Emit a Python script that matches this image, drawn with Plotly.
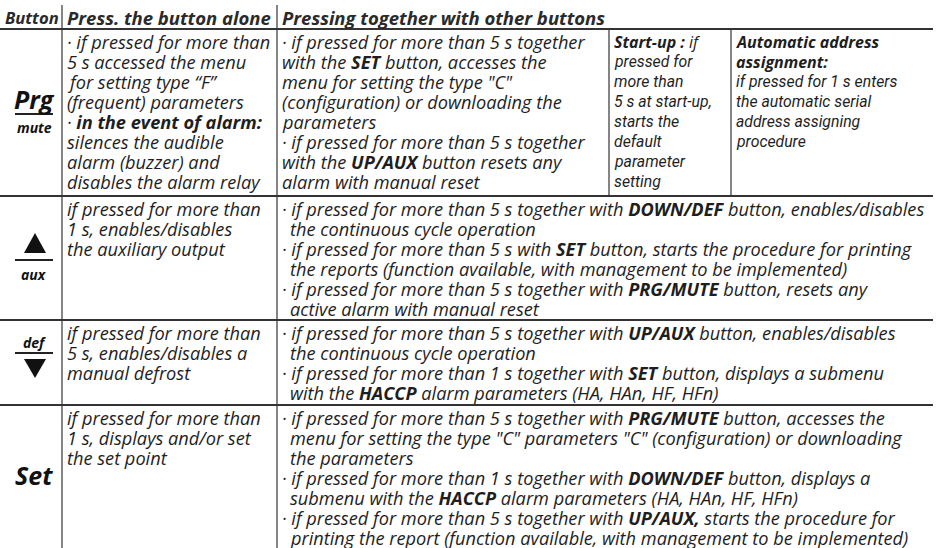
import plotly.graph_objects as go

# ---------------- data (table content) ----------------
header = ["Button", "Press. the button alone", "Pressing together with other buttons"]

button_names = ["Prg", "aux", "def", "Set"]
button_subs = ["mute", "", "", ""]

alone_texts = [
    ["· if pressed for more than",
     "5 s accessed the menu",
     "for setting type “F”",
     "(frequent) parameters",
     "· <b>in the event of alarm:</b>",
     "silences the audible",
     "alarm (buzzer) and",
     "disables the alarm relay"],
    ["if pressed for more than",
     "1 s, enables/disables",
     "the auxiliary output"],
    ["if pressed for more than",
     "5 s, enables/disables a",
     "manual defrost"],
    ["if pressed for more than",
     "1 s, displays and/or set",
     "the set point"],
]

together_texts = [
    ["· if pressed for more than 5 s together",
     "with the <b>SET</b> button, accesses the",
     "menu for setting the type \"C\"",
     "(configuration) or downloading the",
     "parameters",
     "· if pressed for more than 5 s together",
     "with the <b>UP/AUX</b> button resets any",
     "alarm with manual reset"],
    ["· if pressed for more than 5 s together with <b>DOWN/DEF</b> button, enables/disables",
     "  the continuous cycle operation",
     "· if pressed for more than 5 s with <b>SET</b> button, starts the procedure for printing",
     "  the reports (function available, with management to be implemented)",
     "· if pressed for more than 5 s together with <b>PRG/MUTE</b> button, resets any",
     "  active alarm with manual reset"],
    ["· if pressed for more than 5 s together with <b>UP/AUX</b> button, enables/disables",
     "  the continuous cycle operation",
     "· if pressed for more than 1 s together with <b>SET</b> button, displays a submenu",
     "  with the <b>HACCP</b> alarm parameters (HA, HAn, HF, HFn)"],
    ["· if pressed for more than 5 s together with <b>PRG/MUTE</b> button, accesses the",
     "  menu for setting the type \"C\" parameters \"C\" (configuration) or downloading",
     "  the parameters",
     "· if pressed for more than 1 s together with <b>DOWN/DEF</b> button, displays a",
     "  submenu with the <b>HACCP</b> alarm parameters (HA, HAn, HF, HFn)",
     "· if pressed for more than 5 s together with <b>UP/AUX,</b> starts the procedure for",
     "  printing the report (function available, with management to be implemented)"],
]

startup_text = ["<b>Start-up :</b> if", "pressed for", "more than", "5 s at start-up,",
                "starts the", "default", "parameter", "setting"]
auto_text = ["<b>Automatic address</b>", "<b>assignment:</b>", "if pressed for 1 s enters",
             "the automatic serial", "address assigning", "procedure"]

# ---------------- layout geometry (screen pixels) ----------------
W, H = 951, 548
X_DIV = [62, 277, 609, 731]
X_RIGHT = 933
X_TEXT = [65, 280, 612, 734]
HEADER_Y = 17
HEADER_LINE = 29
ROW_SEPS = [196, 320, 405]
ROW_TOPS = [HEADER_LINE, 196, 320, 405]
LINE0 = 12.5
LINE_H = 20
INDENT = 8

TXT = "#1e1e1e"
LINE = "#333333"
FONT = "Open Sans, Noto Sans, sans-serif"
NARROW = "Roboto, sans-serif"
FS = 18.2
FS_NARROW = 15.8
FS_BOLDNARROW = 16

ann = []
shapes = []


def add_line_text(x, y, txt, family=FONT, size=FS, color=TXT):
    ind = 0
    if txt.startswith("  "):
        ind = INDENT
        txt = txt[2:]
    ann.append(dict(x=x + ind, y=y, xref="x", yref="y", text="<i>" + txt + "</i>",
                    showarrow=False, xanchor="left", yanchor="middle",
                    font=dict(family=family, size=size, color=color, style="italic")))


def add_cell(x, top, lines, family=FONT, size=FS, start=0):
    for i, t in enumerate(lines):
        add_line_text(x, top + LINE0 + (i + start) * LINE_H, t, family, size)


# header
HFONT = dict(family=FONT, size=18.5, color="#2a2a2a")
for xh, txt, fs in zip([3, X_TEXT[0], X_TEXT[1]], header, [16.6, 18.5, 18.5]):
    ann.append(dict(x=xh, y=HEADER_Y, xref="x", yref="y", text="<b><i>" + txt + "</i></b>",
                    showarrow=False, xanchor="left", yanchor="middle",
                    font=dict(family=FONT, size=fs, color="#2a2a2a")))

# cells
for r in range(4):
    add_cell(X_TEXT[0], ROW_TOPS[r], alone_texts[r])
    add_cell(X_TEXT[1], ROW_TOPS[r], together_texts[r])
add_cell(X_TEXT[2], ROW_TOPS[0], startup_text[:1], FONT, FS_BOLDNARROW)
add_cell(X_TEXT[2], ROW_TOPS[0], startup_text[1:], NARROW, FS_NARROW, start=1)
add_cell(X_TEXT[3], ROW_TOPS[0], auto_text[:2], FONT, FS_BOLDNARROW)
add_cell(X_TEXT[3], ROW_TOPS[0], auto_text[2:], NARROW, FS_NARROW, start=2)

# horizontal lines
for yv in [HEADER_LINE] + ROW_SEPS:
    shapes.append(dict(type="line", x0=0, x1=X_RIGHT, y0=yv, y1=yv,
                       xref="x", yref="y", line=dict(color=LINE, width=1.8)))
# vertical lines
for xv in X_DIV[:2]:
    shapes.append(dict(type="line", x0=xv, x1=xv, y0=5, y1=H, xref="x", yref="y",
                       line=dict(color=LINE, width=1.2)))
for xv in X_DIV[2:]:
    shapes.append(dict(type="line", x0=xv, x1=xv, y0=HEADER_LINE, y1=ROW_SEPS[0],
                       xref="x", yref="y", line=dict(color=LINE, width=1.2)))

# button symbols
BX = 34
BOLD_SYM = dict(family="Open Sans, sans-serif", size=25, color="#111111")
SUB = dict(family="Open Sans, sans-serif", size=14, color="#111111")
# Prg / mute
ann.append(dict(x=BX, y=99, xref="x", yref="y", text="<b><i>" + button_names[0] + "</i></b>",
                showarrow=False, xanchor="center", yanchor="middle", font=BOLD_SYM))
shapes.append(dict(type="line", x0=15, x1=53, y0=114, y1=114, xref="x", yref="y",
                   line=dict(color="#222", width=2)))
ann.append(dict(x=BX, y=127, xref="x", yref="y", text="<b><i>" + button_subs[0] + "</i></b>",
                showarrow=False, xanchor="center", yanchor="middle", font=SUB))
# up / aux
shapes.append(dict(type="path", path="M 24 253 L 46 253 L 35 233 Z", xref="x", yref="y",
                   fillcolor="#111", line=dict(width=0)))
shapes.append(dict(type="line", x0=15, x1=53, y0=260, y1=260, xref="x", yref="y",
                   line=dict(color="#222", width=2)))
ann.append(dict(x=BX, y=274, xref="x", yref="y", text="<b><i>" + button_names[1] + "</i></b>",
                showarrow=False, xanchor="center", yanchor="middle", font=SUB))
# def / down
ann.append(dict(x=BX, y=342, xref="x", yref="y", text="<b><i>" + button_names[2] + "</i></b>",
                showarrow=False, xanchor="center", yanchor="middle", font=SUB))
shapes.append(dict(type="line", x0=15, x1=53, y0=353, y1=353, xref="x", yref="y",
                   line=dict(color="#222", width=2)))
shapes.append(dict(type="path", path="M 24 359 L 46 359 L 35 378 Z", xref="x", yref="y",
                   fillcolor="#111", line=dict(width=0)))
# Set
ann.append(dict(x=BX, y=475, xref="x", yref="y", text="<b><i>" + button_names[3] + "</i></b>",
                showarrow=False, xanchor="center", yanchor="middle", font=BOLD_SYM))

fig = go.Figure()
fig.update_layout(
    width=W, height=H, margin=dict(l=0, r=0, t=0, b=0),
    paper_bgcolor="white", plot_bgcolor="white",
    xaxis=dict(range=[0, W], visible=False, fixedrange=True),
    yaxis=dict(range=[H, 0], visible=False, fixedrange=True),
    annotations=ann, shapes=shapes, showlegend=False,
)
fig.write_html("out.html", config={"displayModeBar": False},
               post_script="document.body.style.margin='0';document.body.style.overflow='hidden';")
